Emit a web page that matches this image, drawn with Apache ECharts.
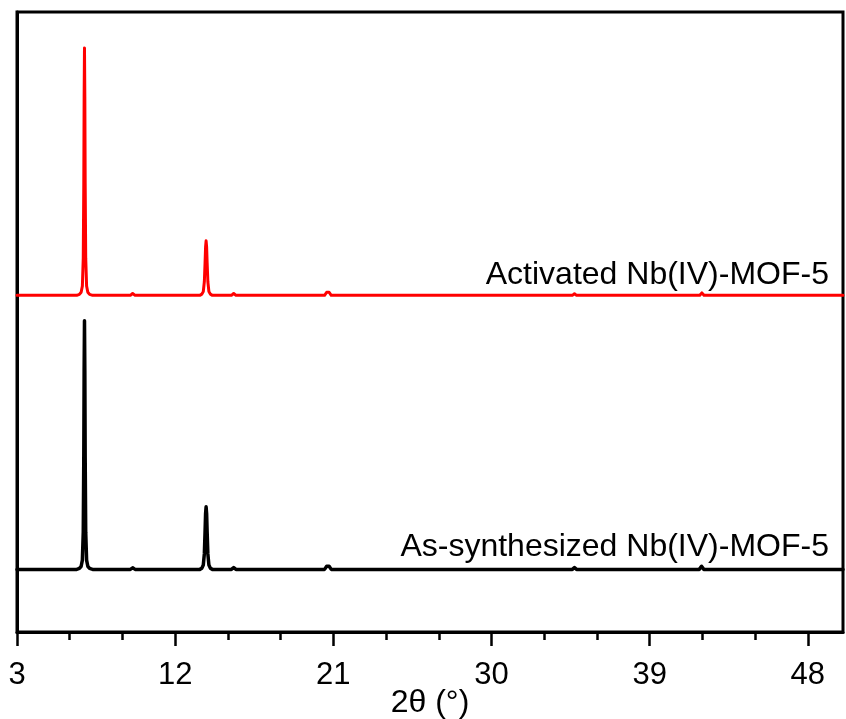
<!DOCTYPE html>
<html>
<head>
<meta charset="utf-8">
<script src="https://cdn.jsdelivr.net/npm/echarts@6/dist/echarts.min.js"></script>
<style>
  html, body { margin: 0; padding: 0; background: #fff; }
  #chart { width: 846px; height: 719px; }
</style>
</head>
<body>
<div id="chart"></div>
<script>
// PXRD patterns: [2θ (°), intensity above pattern baseline (a.u.)]
const asSynthesized = [
  [3.0, 0], [6.40, 0], [6.55, 0.15], [6.65, 0.5], [6.72, 1.5], [6.77, 6], [6.80, 18], [6.82, 32],
  [6.84, 40.1], [6.86, 32], [6.88, 18], [6.91, 6], [6.96, 1.5], [7.03, 0.5], [7.13, 0.15], [7.30, 0],
  [9.45, 0], [9.58, 0.25], [9.72, 0],
  [13.40, 0], [13.52, 0.2], [13.60, 0.7], [13.66, 2.5], [13.70, 6], [13.73, 9], [13.76, 10.1],
  [13.79, 9], [13.82, 6], [13.86, 2.5], [13.92, 0.7], [14.00, 0.2], [14.12, 0],
  [15.20, 0], [15.33, 0.3], [15.46, 0],
  [20.50, 0], [20.62, 0.5], [20.69, 0.8], [20.76, 0.5], [20.88, 0],
  [34.60, 0], [34.72, 0.3], [34.84, 0],
  [41.82, 0], [41.95, 0.5], [42.08, 0],
  [49.45, 0], [49.56, 0.25], [49.68, 0], [50.0, 0]
];

const activated = [
  [3.0, 0], [6.40, 0], [6.55, 0.15], [6.65, 0.5], [6.72, 1.5], [6.77, 6], [6.80, 18], [6.82, 32],
  [6.84, 39.9], [6.86, 32], [6.88, 18], [6.91, 6], [6.96, 1.5], [7.03, 0.5], [7.13, 0.15], [7.30, 0],
  [9.45, 0], [9.58, 0.3], [9.72, 0],
  [13.40, 0], [13.52, 0.2], [13.60, 0.6], [13.66, 2.2], [13.70, 5.2], [13.73, 7.8], [13.76, 8.8],
  [13.79, 7.8], [13.82, 5.2], [13.86, 2.2], [13.92, 0.6], [14.00, 0.2], [14.12, 0],
  [14.60, 0], [14.70, 0.15], [14.80, 0],
  [15.20, 0], [15.33, 0.3], [15.46, 0],
  [17.70, 0], [17.80, 0.12], [17.90, 0],
  [20.50, 0], [20.62, 0.5], [20.69, 0.8], [20.76, 0.5], [20.88, 0],
  [25.30, 0], [25.40, 0.12], [25.50, 0],
  [27.10, 0], [27.20, 0.12], [27.30, 0],
  [34.60, 0], [34.72, 0.25], [34.84, 0],
  [35.40, 0], [35.50, 0.2], [35.60, 0],
  [41.85, 0], [41.97, 0.4], [42.09, 0],
  [42.60, 0], [42.70, 0.25], [42.80, 0],
  [49.40, 0], [49.50, 0.2], [49.60, 0], [50.0, 0]
];

const seriesNames = ['As-synthesized Nb(IV)-MOF-5', 'Activated Nb(IV)-MOF-5'];
const majorTicks = [3, 12, 21, 30, 39, 48];
const minorTicks = [6, 9, 15, 18, 24, 27, 33, 36, 42, 45];

// vertical stacking of the two patterns
const AS_BASE = 10.1;
const ACT_BASE = 54.3;
const shift = (arr, b) => arr.map(([x, y]) => [x, y + b]);

const FONT = '"Liberation Sans", Arial, sans-serif';

function patternLabel(text, x, base, dy) {
  return {
    symbol: 'circle',
    symbolSize: 0,
    silent: true,
    data: [{
      coord: [x, base],
      label: {
        show: true,
        formatter: text,
        position: [0, 0],
        align: 'right',
        verticalAlign: 'bottom',
        offset: [0, dy],
        color: '#000',
        fontSize: 32,
        fontFamily: FONT
      }
    }]
  };
}

const chart = echarts.init(document.getElementById('chart'), null, { renderer: 'canvas' });
chart.setOption({
  animation: false,
  backgroundColor: '#fff',
  grid: {
    left: 17, right: 3, top: 12, bottom: 87,
    outerBoundsMode: 'none',
    containLabel: false,
    show: true, borderColor: '#000', borderWidth: 3, backgroundColor: 'transparent'
  },
  xAxis: [{
    type: 'value', min: 3, max: 50,
    name: '2θ (°)', nameLocation: 'middle', nameGap: 55, nameMoveOverlap: false,
    nameTextStyle: { fontSize: 32, color: '#000', fontFamily: FONT },
    axisLine: { show: true, lineStyle: { color: '#000', width: 3 } },
    axisTick: { show: true, customValues: majorTicks, length: 14, lineStyle: { color: '#000', width: 2.5 } },
    axisLabel: { show: true, customValues: majorTicks, margin: 28, fontSize: 31, color: '#000', fontFamily: FONT },
    splitLine: { show: false }
  }, {
    type: 'value', min: 3, max: 50, position: 'bottom',
    axisLine: { show: false },
    axisTick: { show: true, customValues: minorTicks, length: 8, lineStyle: { color: '#000', width: 2.5 } },
    axisLabel: { show: false },
    splitLine: { show: false }
  }],
  yAxis: {
    type: 'value', min: 0, max: 100,
    axisLine: { show: true, lineStyle: { color: '#000', width: 3 } },
    axisTick: { show: false },
    axisLabel: { show: false },
    splitLine: { show: false }
  },
  series: [{
    name: seriesNames[0],
    type: 'line',
    xAxisIndex: 0,
    data: shift(asSynthesized, AS_BASE),
    showSymbol: false,
    symbol: 'none',
    lineStyle: { color: '#000', width: 3.5, join: 'round', cap: 'round' },
    markPoint: patternLabel(seriesNames[0], 49.2, AS_BASE, -6.5)
  }, {
    name: seriesNames[1],
    type: 'line',
    xAxisIndex: 0,
    data: shift(activated, ACT_BASE),
    showSymbol: false,
    symbol: 'none',
    lineStyle: { color: '#ff0000', width: 3, join: 'round', cap: 'round' },
    markPoint: patternLabel(seriesNames[1], 49.2, ACT_BASE, -4.5)
  }]
});
</script>
</body>
</html>
